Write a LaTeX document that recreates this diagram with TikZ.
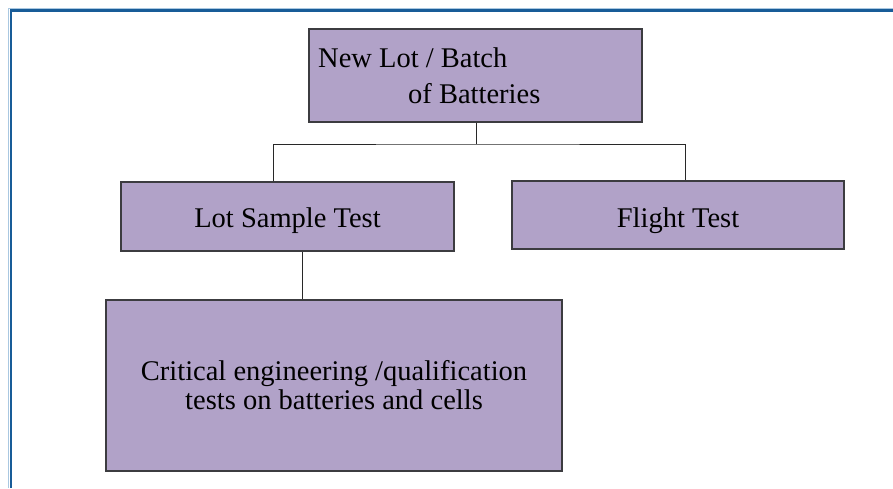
\documentclass[tikz,border=0pt]{standalone}
\usepackage{fontspec}
\setmainfont{Liberation Serif}
\definecolor{boxfill}{RGB}{177,162,200}
\definecolor{boxline}{RGB}{60,60,64}
\definecolor{connline}{RGB}{40,40,40}
\definecolor{frameblue}{RGB}{24,92,152}
\definecolor{framelight}{RGB}{170,200,225}
\tikzset{
  box/.style={draw=boxline, fill=boxfill, line width=1.2pt, inner sep=0pt, rectangle,
    font=\fontsize{28.5}{29}\selectfont, align=center, text=black},
  lbl/.style={inner sep=0pt, font=\fontsize{28.5}{36}\selectfont, text=black},
  conn/.style={draw=connline, line width=1pt},
}
\begin{document}
\begin{tikzpicture}[x=1pt,y=1pt]
\useasboundingbox (0,0) rectangle (893,-488);
% frame
\draw[framelight, line width=1pt] (8.5,-488) -- (8.5,-8) -- (893,-8);
\draw[frameblue, line width=2.5pt] (11,-488) -- (11,-10.5) -- (893,-10.5);
% boxes
\node[box, minimum width=333, minimum height=93] (top) at (475.5,-75.5) {};
\node[lbl, anchor=base west] (t1) at (318,-67.5) {New Lot / Batch};
\node[lbl, anchor=base west] (t2) at (408,-103) {of Batteries};
\node[box, minimum width=333, minimum height=69, text height=27pt, text depth=6pt] (lot) at (287.5,-216.5) {Lot Sample Test};
\node[box, minimum width=332, minimum height=68, text height=30pt, text depth=6pt] (flight) at (678,-215) {Flight Test};
\node[box, minimum width=456, minimum height=171] (crit) at (334,-385.5)
  {Critical engineering /qualification\\tests on batteries and cells};
% connectors
\coordinate (j) at (476,-144);
\draw[conn] (top.south -| j) -- (j);
\draw[conn] (lot.north -| 273,0) |- (j) -| (flight.north -| 685,0);
\draw[conn] (lot.south -| 302,0) -- (crit.north -| 302,0);
\end{tikzpicture}
\end{document}
